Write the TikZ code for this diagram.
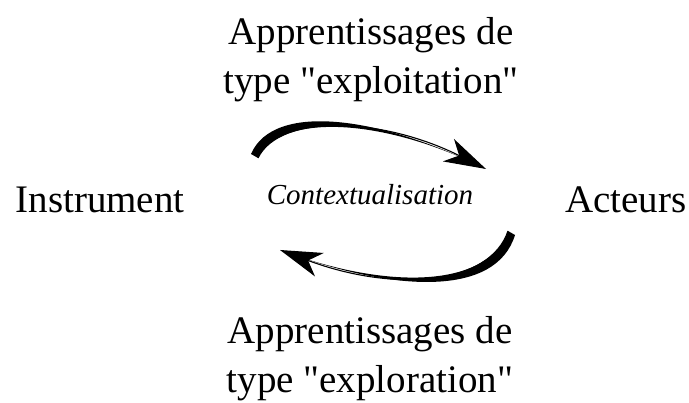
\documentclass[tikz,border=0pt]{standalone}
\usepackage{fontspec}
\setmainfont{Liberation Serif}
\usetikzlibrary{arrows.meta}
\tikzset{
  cx-label/.style={inner sep=0pt, font=\fontsize{39}{49}\selectfont, align=center},
  cx-core/.style={inner sep=0pt, font=\fontsize{29}{35}\selectfont\itshape},
  cx-flow/.style={-{Stealth[length=42pt, width=25pt, inset=12pt]}, line width=1.1pt},
  cx-swoosh/.style={fill=black},
}

\begin{document}
\begin{tikzpicture}[x=1pt, y=1pt]
  \useasboundingbox (0,0) rectangle (689,403);

  % texts
  \node[cx-label, anchor=base] (exploit) at (371,309) {Apprentissages de\\type \textquotedbl exploitation\textquotedbl};
  \node[cx-label, anchor=base] (instrument) at (100,190) {Instrument};
  \node[cx-core, anchor=base]  (context) at (370,198) {Contextualisation};
  \node[cx-label, anchor=base] (acteurs) at (626,190) {Acteurs};
  \node[cx-label, anchor=base] (explor) at (370,10) {Apprentissages de\\type \textquotedbl exploration\textquotedbl};

  % upper swoosh
  \coordinate (s1) at (258,245);  \coordinate (s1o) at (251,249);
  \coordinate (c1) at (280,290);  \coordinate (c1o) at (274,302);
  \coordinate (c2) at (382,286);  \coordinate (t1) at (486,234);
  \fill[cx-swoosh] (s1) .. controls (c1) and (c2) .. (t1)
                        .. controls (c2) and (c1o) .. (s1o) -- cycle;
  \draw[cx-flow] (s1) .. controls (c1) and (c2) .. (t1);

  % lower swoosh
  \coordinate (s2) at (508,172);  \coordinate (s2o) at (515,168);
  \coordinate (c3) at (490,118);  \coordinate (c3o) at (496,106);
  \coordinate (c4) at (395,110);  \coordinate (t2) at (280,153);
  \fill[cx-swoosh] (s2) .. controls (c3) and (c4) .. (t2)
                        .. controls (c4) and (c3o) .. (s2o) -- cycle;
  \draw[cx-flow] (s2) .. controls (c3) and (c4) .. (t2);
\end{tikzpicture}
\end{document}
